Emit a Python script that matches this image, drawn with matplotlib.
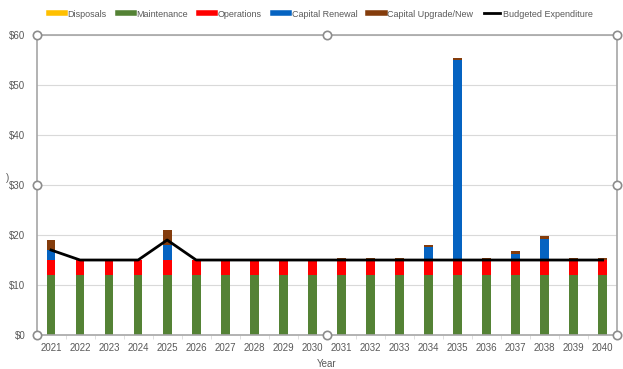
"""
Stacked yearly expenditure by category with the budgeted expenditure line.
"""
import numpy as np
from matplotlib import pyplot as plt
from matplotlib.lines import Line2D

years = [str(y) for y in range(2021, 2041)]
disposals = [0] * 20
maintenance = [12] * 20
operations = [3] * 20
capital_renewal = [2, 0, 0, 0, 3, 0, 0, 0, 0, 0, 0, 0, 0, 2.7, 40.1, 0, 1.3, 4.3, 0, 0]
capital_upgrade = [2, 0, 0, 0, 3, 0, 0, 0, 0, 0, 0.5, 0.5, 0.5, 0.3, 0.4, 0.5, 0.5, 0.5, 0.5, 0.5]
budgeted = [17, 15, 15, 15, 19, 15, 15, 15, 15, 15, 15, 15, 15, 15, 15, 15, 15, 15, 15, 15]

series = [
    ("Disposals", disposals, "#FFC000"),
    ("Maintenance", maintenance, "#548235"),
    ("Operations", operations, "#FF0000"),
    ("Capital Renewal", capital_renewal, "#0563C1"),
    ("Capital Upgrade/New", capital_upgrade, "#843C0C"),
]

plt.rcParams["font.family"] = ["Liberation Sans", "DejaVu Sans"]
text_colour = "#595959"
frame_colour = "#A6A6A6"

fig = plt.figure(figsize=(6.23, 3.69), dpi=100)
ax = fig.add_axes([0.0586, 0.0921, 0.932, 0.813])

x = np.arange(len(years))
bottom = np.zeros(len(years))
for name, values, colour in series:
    values = np.array(values, dtype=float)
    ax.bar(x, values, width=0.3, bottom=bottom, color=colour, zorder=2)
    bottom += values

ax.plot(x, budgeted, color="black", linewidth=2, zorder=3)

ax.set_xlim(-0.5, len(years) - 0.5)
ax.set_ylim(0, 60)
ax.set_yticks(range(0, 61, 10))
ax.set_yticklabels([f"${v}" for v in range(0, 61, 10)])
ax.set_xticks(x)
ax.set_xticklabels(years)
ax.set_xticks(np.arange(-0.5, len(years), 1), minor=True)
ax.tick_params(axis="x", which="major", length=0, labelsize=7, labelcolor=text_colour, pad=6)
ax.tick_params(axis="x", which="minor", length=3, color="#D9D9D9")
ax.tick_params(axis="y", length=0, labelsize=7, labelcolor=text_colour, pad=8)
ax.grid(axis="y", color="#D9D9D9", linewidth=0.8, zorder=0)
ax.set_axisbelow(True)
ax.set_xlabel("Year", fontsize=7, color=text_colour, labelpad=4)

# clipped y-axis title remnant at the left edge
fig.text(0.01, 0.518, ")", fontsize=7, color=text_colour, va="center")

for side in ["left", "right", "top", "bottom"]:
    ax.spines[side].set_color(frame_colour)
    ax.spines[side].set_linewidth(1.2)

# Selection handles around the chart area
hx = [0, 0.5, 1, 0, 1, 0, 0.5, 1]
hy = [1, 1, 1, 0.5, 0.5, 0, 0, 0]
ax.plot(hx, hy, "o", markersize=6, markerfacecolor="white", markeredgecolor="#8C8C8C",
        markeredgewidth=1.2, transform=ax.transAxes, clip_on=False, zorder=5)

handles = [Line2D([], [], color=c, linewidth=4) for _, _, c in series]
handles.append(Line2D([], [], color="black", linewidth=2))
labels = [n for n, _, _ in series] + ["Budgeted Expenditure"]
fig.legend(handles, labels, loc="center", bbox_to_anchor=(0.515, 0.962), ncol=6, frameon=False,
           fontsize=6.5, handlelength=1.8, handletextpad=0.3, columnspacing=1.2, labelcolor=text_colour)

fig.savefig("out.png", dpi=100)
